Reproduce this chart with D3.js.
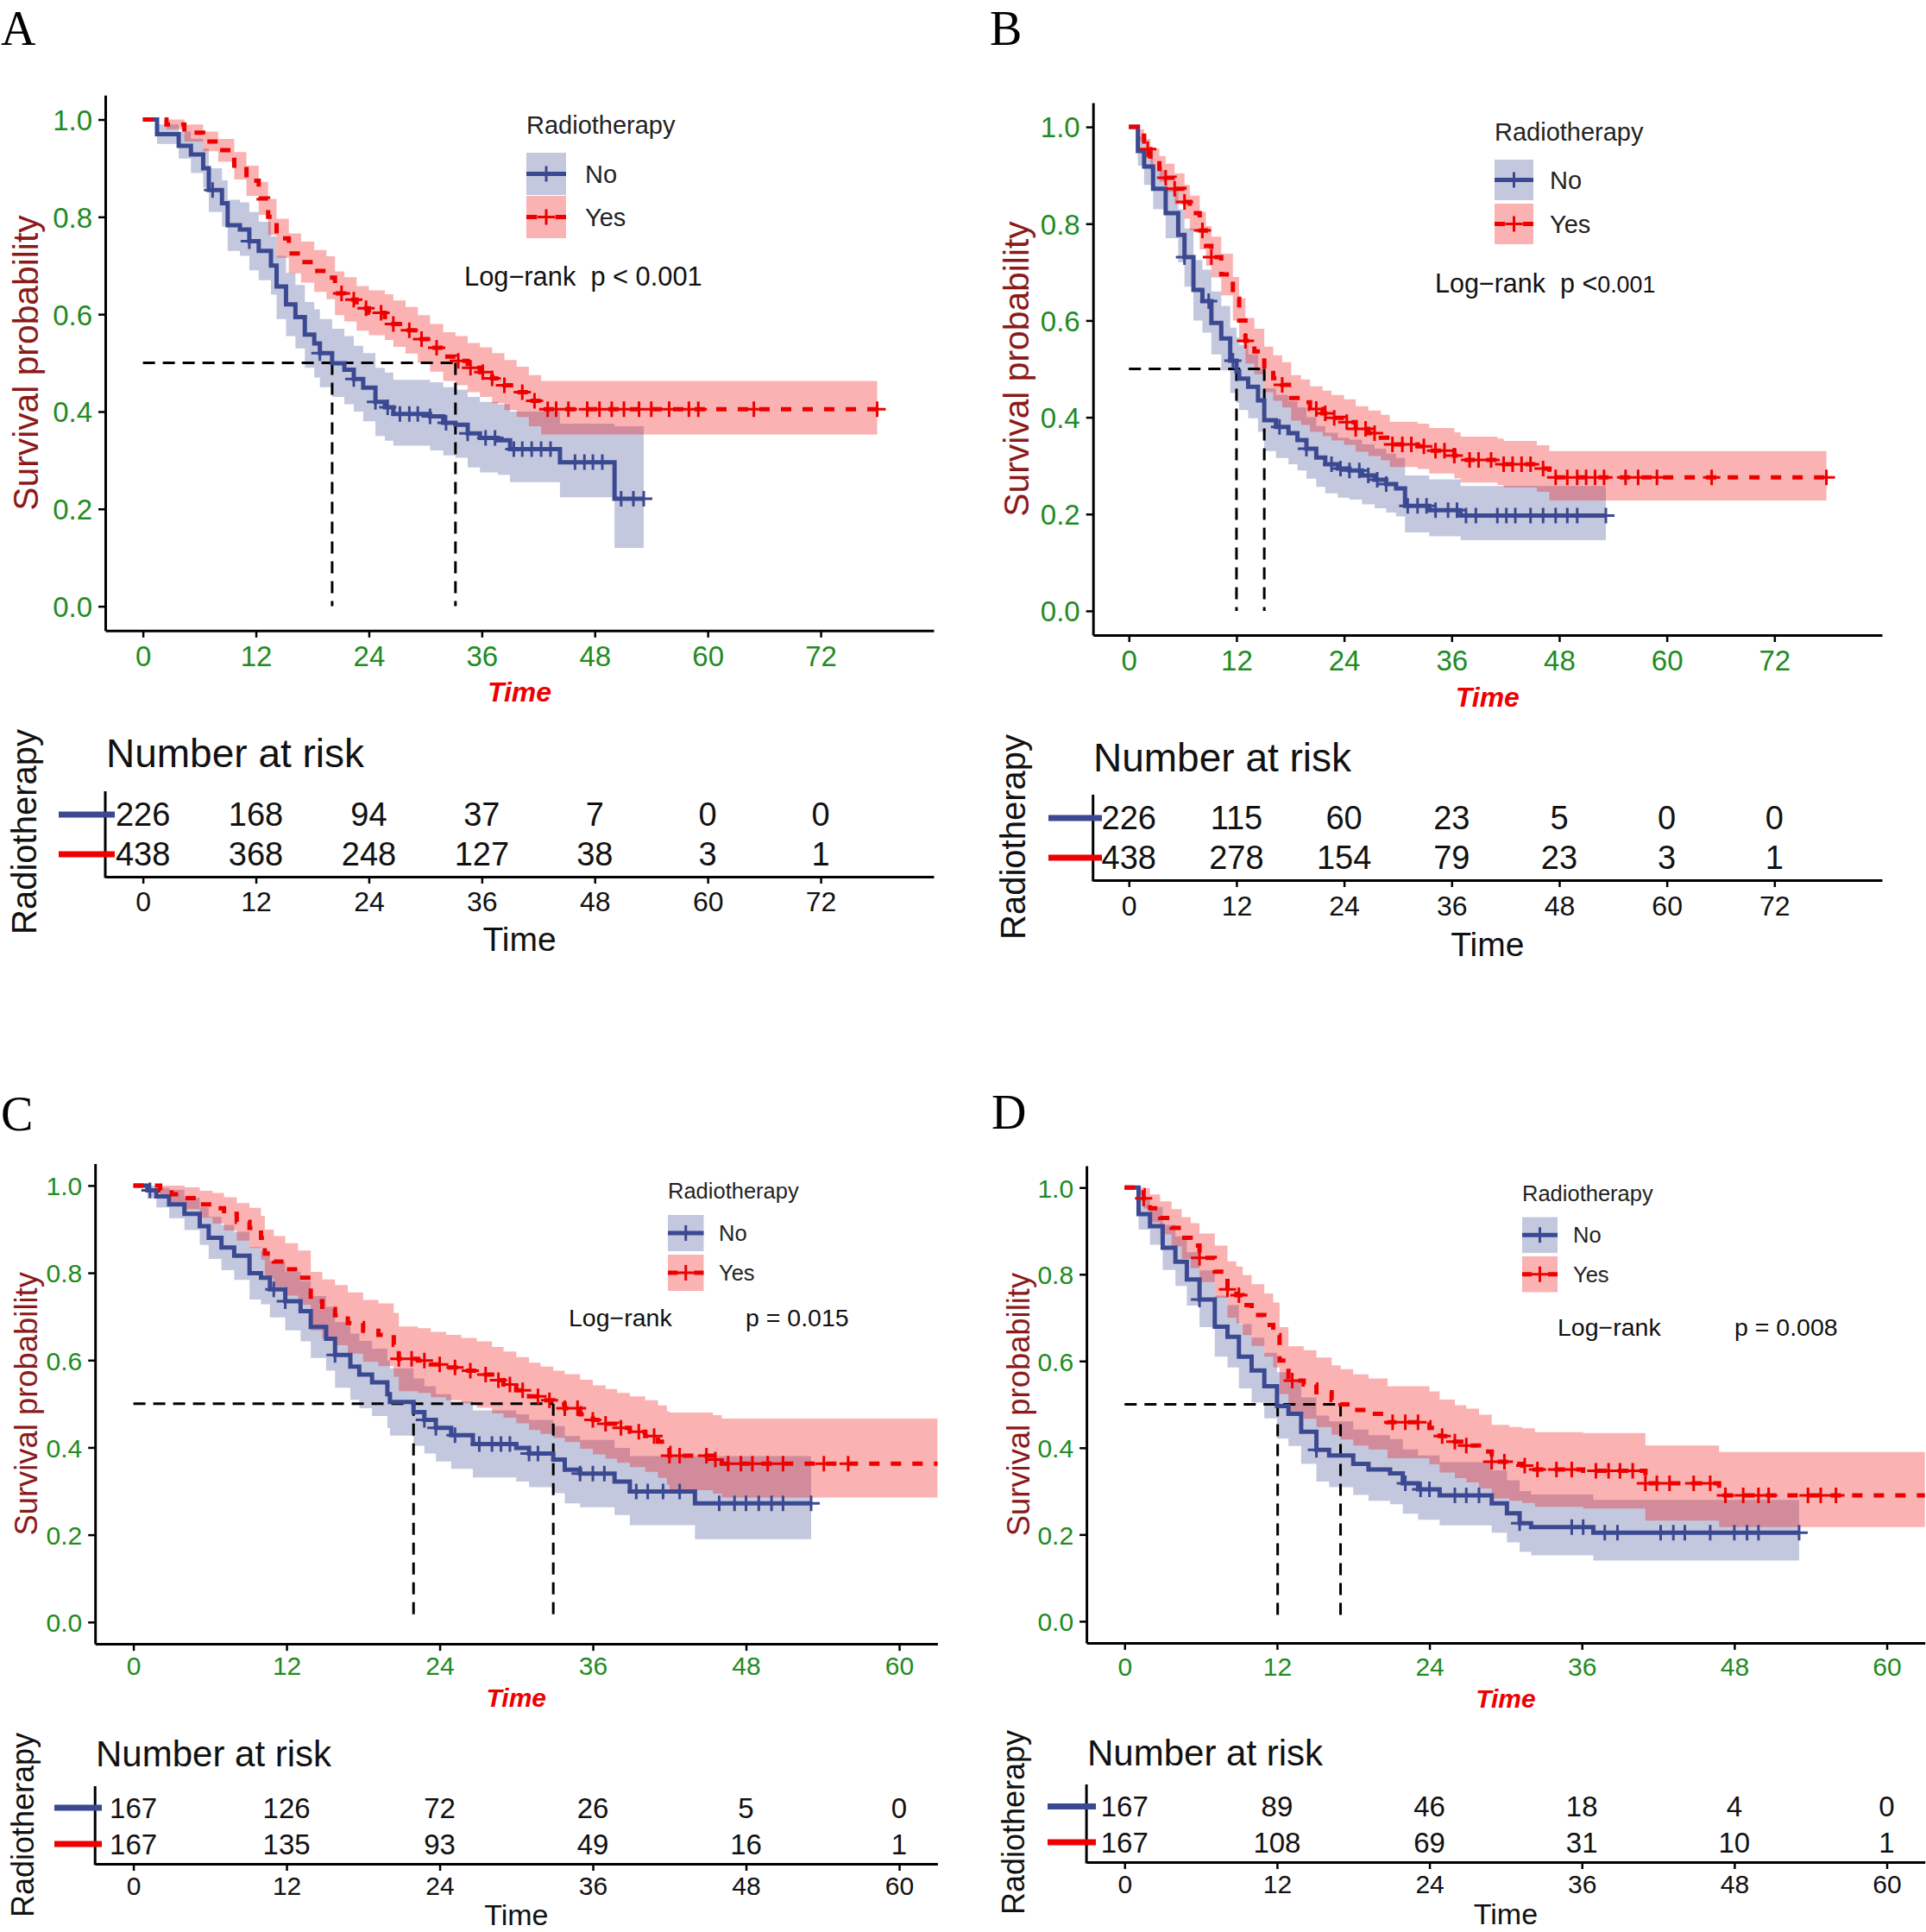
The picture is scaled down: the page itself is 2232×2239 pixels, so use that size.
<!DOCTYPE html>
<html><head><meta charset="utf-8">
<script src="https://cdn.jsdelivr.net/npm/d3@7/dist/d3.min.js"></script>
<style>body{margin:0;background:#fff}svg{display:block}</style>
</head><body>
<svg id="chart" width="2232" height="2239"></svg>
<script>
// ---------------- DATA ----------------
const panelLetters = ['A','B','C','D'];
const groupNames = ['No','Yes'];
const legendTitle = 'Radiotherapy';
const ticksAB = [0,12,24,36,48,60,72];
const ticksCD = [0,12,24,36,48,60];
const survTicks = [0,0.2,0.4,0.6,0.8,1.0];

// steps: [time, survival, lower CI, upper CI]
const A_no = [[0,1,1,1],[1.5,0.97,0.95,0.99],[3.8,0.946,0.92,0.975],[5.1,0.928,0.89,0.96],[6.4,0.90,0.86,0.94],[7.0,0.855,0.81,0.90],[8.4,0.828,0.78,0.875],[9.0,0.783,0.73,0.835],[10.3,0.774,0.72,0.83],[11.3,0.75,0.69,0.81],[12.3,0.73,0.67,0.79],[13.6,0.70,0.64,0.76],[14.2,0.657,0.59,0.72],[15.2,0.62,0.555,0.685],[16.2,0.594,0.53,0.66],[17.2,0.558,0.49,0.625],[18.2,0.54,0.47,0.61],[18.8,0.52,0.45,0.59],[20.1,0.499,0.43,0.57],[21.4,0.486,0.415,0.555],[22.4,0.467,0.40,0.535],[23.4,0.449,0.38,0.52],[24.7,0.42,0.35,0.49],[25.7,0.409,0.34,0.48],[26.6,0.395,0.33,0.465],[30.5,0.39,0.32,0.46],[31.9,0.377,0.31,0.45],[33.2,0.373,0.305,0.445],[34.5,0.355,0.285,0.43],[35.8,0.346,0.275,0.42],[37.7,0.341,0.27,0.415],[39.0,0.323,0.255,0.40],[44.3,0.296,0.224,0.375],[50.1,0.221,0.12,0.37]];
const A_no_end = 53.2;
const A_no_cens = [7.4,11.3,18.8,22.4,24.7,26,27.3,28.3,29.2,30.5,32.2,34.5,36.4,37.4,39.4,40.3,41.3,42.3,43.3,45.9,46.9,47.8,48.8,50.8,52.1,53.2];
const A_yes = [[0,1,1,1],[2.5,0.99,0.98,1.0],[4.4,0.973,0.955,0.99],[6.4,0.955,0.935,0.975],[8.0,0.937,0.913,0.96],[9.7,0.905,0.877,0.933],[11.0,0.874,0.843,0.905],[12.3,0.838,0.804,0.872],[13.3,0.80,0.763,0.837],[14.2,0.756,0.716,0.796],[15.5,0.725,0.684,0.766],[16.8,0.707,0.665,0.749],[18.2,0.689,0.646,0.732],[19.5,0.675,0.631,0.719],[20.4,0.643,0.598,0.688],[21.4,0.63,0.585,0.676],[22.7,0.612,0.566,0.658],[24.0,0.603,0.557,0.649],[25.7,0.594,0.547,0.641],[26.6,0.58,0.533,0.628],[27.9,0.567,0.519,0.615],[29.2,0.549,0.50,0.598],[30.5,0.531,0.482,0.58],[31.9,0.513,0.463,0.563],[33.2,0.504,0.454,0.555],[34.5,0.49,0.44,0.541],[35.8,0.481,0.43,0.532],[37.1,0.468,0.417,0.52],[38.4,0.454,0.403,0.506],[39.7,0.44,0.389,0.492],[41.0,0.422,0.37,0.475],[42.3,0.405,0.353,0.463]];
const A_yes_end = 78.0;
const A_yes_cens = [21.1,22.4,23.7,25.3,26.6,28.3,29.6,31.2,33.5,34.8,36.1,37.1,38.4,40.3,41.6,43,43.9,45.2,47.2,48.5,49.8,51.1,52.7,54,55.9,58,59,64.9,78];
const A_risk_no = [226,168,94,37,7,0,0];
const A_risk_yes = [438,368,248,127,38,3,1];
const A_medians = [20.1,33.2];

const B_no = [[0,1,1,1],[1.0,0.95,0.92,0.98],[1.7,0.918,0.88,0.95],[2.7,0.872,0.83,0.91],[4.1,0.822,0.77,0.87],[5.5,0.777,0.72,0.83],[6.2,0.731,0.67,0.79],[7.2,0.663,0.60,0.725],[8.2,0.64,0.575,0.705],[9.2,0.595,0.53,0.66],[10.3,0.563,0.497,0.63],[11.3,0.517,0.45,0.585],[12.0,0.495,0.43,0.565],[12.3,0.48,0.415,0.55],[13.3,0.463,0.398,0.53],[14.4,0.435,0.37,0.50],[15.1,0.394,0.33,0.46],[16.4,0.38,0.316,0.446],[17.8,0.367,0.303,0.433],[18.8,0.353,0.29,0.42],[19.8,0.335,0.273,0.40],[20.9,0.317,0.256,0.382],[21.9,0.303,0.243,0.368],[23.3,0.294,0.234,0.358],[24.6,0.29,0.23,0.354],[26.0,0.28,0.22,0.344],[27.4,0.271,0.212,0.335],[28.7,0.262,0.203,0.325],[29.8,0.253,0.195,0.316],[30.8,0.217,0.162,0.28],[33.5,0.208,0.154,0.272],[37.0,0.197,0.146,0.258]];
const B_no_end = 53.2;
const B_no_cens = [6.2,8.9,11.6,16.8,19.8,22.6,23.6,24.6,25.7,26.7,27.7,28.7,31.1,32.2,33.2,34.2,35.6,36.6,37.6,38.7,41.1,42.1,43.1,44.8,46.2,47.6,48.9,50,53.2];
const B_yes = [[0,1,1,1],[1.0,0.982,0.97,0.995],[1.7,0.954,0.935,0.975],[2.4,0.932,0.91,0.955],[3.4,0.913,0.887,0.94],[4.1,0.895,0.866,0.924],[5.1,0.872,0.84,0.904],[6.2,0.845,0.81,0.88],[6.8,0.822,0.786,0.858],[7.9,0.786,0.747,0.825],[8.6,0.754,0.713,0.795],[9.2,0.731,0.689,0.773],[10.3,0.695,0.652,0.738],[11.6,0.645,0.60,0.69],[12.3,0.60,0.554,0.646],[13.0,0.558,0.511,0.605],[14.0,0.536,0.489,0.583],[15.1,0.499,0.452,0.546],[16.1,0.481,0.434,0.528],[17.1,0.467,0.42,0.514],[18.1,0.44,0.393,0.487],[19.2,0.431,0.384,0.478],[20.2,0.417,0.37,0.464],[21.6,0.408,0.361,0.455],[22.6,0.399,0.352,0.446],[24.0,0.39,0.343,0.437],[25.3,0.376,0.329,0.423],[26.7,0.367,0.32,0.414],[28.1,0.358,0.311,0.405],[29.1,0.344,0.297,0.391],[32.2,0.34,0.293,0.387],[33.5,0.331,0.284,0.378],[36.3,0.321,0.274,0.369],[37.0,0.312,0.265,0.36],[41.1,0.308,0.26,0.356],[41.8,0.303,0.255,0.351],[45.5,0.294,0.246,0.342],[46.9,0.276,0.228,0.33]];
const B_yes_end = 77.8;
const B_yes_cens = [2.1,4.1,5.1,6.2,8.2,9.2,13,17.1,20.9,21.9,22.9,24.3,25.3,26.4,27.4,29.4,30.5,31.5,32.9,34.2,35.2,36.3,38,39,40.4,41.8,42.8,43.8,44.8,46.2,47.6,48.9,50,51,52,53,55.4,56.8,58.9,65,77.8];
const B_risk_no = [226,115,60,23,5,0,0];
const B_risk_yes = [438,278,154,79,23,3,1];
const B_medians = [12.0,15.1];

const C_no = [[0,1,1,1],[1.1,0.989,0.97,1.0],[1.8,0.975,0.95,0.995],[2.8,0.957,0.925,0.99],[4.0,0.935,0.898,0.972],[5.2,0.907,0.864,0.95],[5.9,0.88,0.832,0.928],[6.9,0.858,0.806,0.91],[7.9,0.839,0.784,0.894],[9.1,0.799,0.739,0.859],[10.0,0.789,0.728,0.85],[10.7,0.762,0.698,0.826],[11.9,0.735,0.668,0.802],[13.1,0.712,0.643,0.781],[13.9,0.676,0.605,0.747],[15.1,0.649,0.576,0.722],[15.8,0.612,0.537,0.687],[17.0,0.585,0.509,0.661],[17.7,0.567,0.49,0.644],[18.7,0.549,0.472,0.626],[19.9,0.522,0.445,0.599],[20.1,0.504,0.427,0.581],[21.95,0.481,0.404,0.558],[22.8,0.463,0.386,0.54],[23.7,0.445,0.368,0.522],[24.9,0.428,0.351,0.505],[26.6,0.408,0.331,0.485],[30.0,0.399,0.322,0.476],[31.0,0.386,0.309,0.463],[32.9,0.372,0.295,0.449],[33.8,0.349,0.272,0.426],[35.0,0.34,0.263,0.417],[37.7,0.322,0.245,0.399],[38.9,0.299,0.222,0.38],[44.0,0.272,0.19,0.38]];
const C_no_end = 53.1;
const C_no_cens = [1.3,11,11.9,15.8,22.8,23.7,25.2,27.1,28.1,28.8,29.5,31,31.7,35,36,36.9,39.4,40.3,41.5,42.8,45.9,47.1,48,49,50,50.9,53.1];
const C_yes = [[0,1,1,1],[2.1,0.989,0.973,1.0],[3.0,0.98,0.959,1.0],[4.0,0.971,0.946,0.996],[5.2,0.957,0.926,0.988],[6.2,0.948,0.913,0.983],[7.1,0.935,0.897,0.973],[8.1,0.917,0.874,0.96],[9.1,0.903,0.857,0.949],[10.0,0.88,0.83,0.93],[10.3,0.844,0.789,0.899],[11.0,0.826,0.768,0.884],[11.9,0.808,0.748,0.868],[12.9,0.789,0.727,0.851],[13.9,0.735,0.668,0.802],[14.8,0.717,0.649,0.785],[15.8,0.703,0.634,0.772],[16.8,0.685,0.615,0.755],[18.0,0.667,0.596,0.738],[19.2,0.658,0.586,0.73],[20.4,0.635,0.562,0.708],[20.8,0.603,0.529,0.677],[22.3,0.599,0.525,0.673],[23.3,0.59,0.515,0.665],[24.5,0.583,0.508,0.658],[25.7,0.576,0.501,0.651],[26.9,0.567,0.491,0.643],[28.1,0.554,0.478,0.63],[29.0,0.544,0.468,0.62],[30.0,0.531,0.455,0.607],[31.0,0.517,0.44,0.594],[31.9,0.508,0.431,0.585],[32.9,0.499,0.422,0.576],[33.8,0.49,0.412,0.568],[35.0,0.476,0.397,0.555],[36.0,0.463,0.384,0.542],[37.0,0.454,0.374,0.534],[37.9,0.445,0.365,0.525],[38.9,0.436,0.355,0.517],[40.1,0.426,0.344,0.508],[41.1,0.413,0.33,0.496],[41.8,0.399,0.315,0.483],[42.0,0.381,0.302,0.48],[45.4,0.372,0.294,0.474],[46.1,0.363,0.285,0.466]];
const C_yes_end = 70;
const C_yes_cens = [20.8,21.8,22.8,24,25.2,26.4,27.6,28.6,29.5,30.5,31.7,32.6,33.8,34.8,36,37,38.2,39.6,40.8,42,42.8,44.9,45.6,46.6,47.6,48.5,49.7,50.9,54.1,56];
const C_risk_no = [167,126,72,26,5,0];
const C_risk_yes = [167,135,93,49,16,1];
const C_medians = [21.95,32.9];

const D_no = [[0,1,1,1],[1.1,0.939,0.903,0.976],[2.0,0.911,0.868,0.955],[3.0,0.861,0.81,0.914],[4.0,0.829,0.773,0.887],[4.9,0.788,0.728,0.851],[5.9,0.742,0.678,0.809],[7.1,0.679,0.61,0.751],[8.1,0.656,0.585,0.729],[9.0,0.61,0.537,0.685],[10.0,0.578,0.504,0.654],[11.0,0.542,0.468,0.619],[12.0,0.496,0.421,0.574],[12.9,0.478,0.404,0.557],[13.9,0.437,0.363,0.516],[15.1,0.395,0.322,0.474],[16.1,0.382,0.309,0.461],[18.0,0.363,0.291,0.442],[19.2,0.35,0.278,0.429],[20.9,0.341,0.27,0.42],[21.9,0.318,0.248,0.396],[23.1,0.304,0.234,0.382],[24.8,0.29,0.221,0.367],[28.9,0.272,0.204,0.348],[30.1,0.249,0.182,0.325],[31.1,0.226,0.16,0.30],[32.0,0.217,0.152,0.292],[36.9,0.204,0.14,0.28]];
const D_no_end = 53.1;
const D_no_cens = [5.9,15.1,22.1,23.3,24,26,26.9,27.9,31.1,35.2,36.1,37.8,38.8,42.2,43.2,44.1,46.1,48,49,49.9,53.1];
const D_yes = [[0,1,1,1],[1.1,0.994,0.982,1.0],[1.5,0.975,0.951,0.999],[2.0,0.952,0.92,0.984],[2.8,0.93,0.892,0.968],[3.7,0.907,0.864,0.95],[4.5,0.884,0.836,0.932],[5.2,0.866,0.814,0.918],[5.9,0.838,0.782,0.894],[7.1,0.806,0.746,0.866],[8.1,0.765,0.70,0.83],[8.8,0.752,0.686,0.818],[9.3,0.729,0.66,0.798],[10.0,0.706,0.635,0.777],[11.0,0.683,0.61,0.756],[11.7,0.66,0.585,0.735],[12.2,0.601,0.524,0.678],[12.9,0.555,0.476,0.634],[14.1,0.546,0.467,0.625],[15.1,0.528,0.448,0.608],[16.3,0.51,0.43,0.59],[17.0,0.50,0.419,0.581],[18.0,0.487,0.405,0.569],[19.2,0.478,0.396,0.56],[20.7,0.459,0.376,0.542],[24.0,0.446,0.362,0.53],[24.8,0.427,0.343,0.511],[26.0,0.414,0.33,0.498],[26.9,0.405,0.32,0.49],[27.9,0.391,0.306,0.476],[28.9,0.368,0.283,0.453],[30.3,0.363,0.278,0.448],[31.3,0.359,0.273,0.445],[32.3,0.35,0.264,0.436],[36.1,0.347,0.26,0.434],[41.0,0.318,0.232,0.405],[46.8,0.29,0.217,0.39]];
const D_yes_end = 70;
const D_yes_cens = [1.5,5.9,8.1,9,13.2,21.1,22.1,23.1,25,26,26.9,28.9,29.9,31.5,32.5,34,35.2,37.1,38.1,39,40,41,41.9,42.9,44.8,46.1,47.3,48.7,49.9,50.7,53.8,54.8,56];
const D_risk_no = [167,89,46,18,4,0];
const D_risk_yes = [167,108,69,31,10,1];
const D_medians = [12.05,17.0];

const logrankLabels = ['Log\u2212rank', 'Log\u2212rank', 'Log\u2212rank', 'Log\u2212rank'];
const pLabels = ['p < 0.001', 'p <0.001', 'p = 0.015', 'p = 0.008'];

// ---------------- STYLE / LAYOUT ----------------
const COL = {no:'#3B4992', yes:'#EE0000', green:'#228B22', ytitle:'#8B1A1A', xtitle:'#EE0000'};
const SANS = '"Liberation Sans", Arial, Helvetica, sans-serif';
const SERIF = '"Liberation Serif", "Times New Roman", serif';

const layouts = [
 {xr:[122,1082], xd:[-4,84], yr:[730.8,110.3], ticks:ticksAB, letter:[0,52],
  leg:{x:610,titleY:145,boxY:[177,227],bw:46,bh:49,labelX:678,fs:29},
  lr:{x:538,y:320,fs:30.8,px:null}, ylabX:30, xtickY:760, xtitleY:802,
  f:{tick:33,ytitle:40.8,xtitle:32,risk:38,riskTick:32,riskTime:39,nar:46,rad:40},
  risk:{top:917,axis:1016,rows:[944,990],tickY:1045,timeY:1088,titleY:873,titleX:123,radX:28,radY:964,segX:[68,133]}},
 {xr:[1266.7,2181], xd:[-4,84], yr:[736,119], ticks:ticksAB, letter:[1146,52],
  leg:{x:1732,titleY:153,boxY:[185,236],bw:45,bh:47,labelX:1796,fs:29},
  lr:{x:1663,y:328,fs:30.5,px:null}, ylabX:1178, xtickY:765, xtitleY:808,
  f:{tick:33,ytitle:40.8,xtitle:32,risk:38,riskTick:32,riskTime:39,nar:46,rad:40},
  risk:{top:921,axis:1020,rows:[948,994],tickY:1050,timeY:1094,titleY:878,titleX:1267,radX:1174,radY:970,segX:[1215,1277]}},
 {xr:[110.2,1086.4], xd:[-3,63], yr:[1905.1,1348.6], ticks:ticksCD, letter:[0,1310],
  leg:{x:774,titleY:1380,boxY:[1408,1454],bw:41.5,bh:42,labelX:833,fs:25.5},
  lr:{x:659,y:1527,fs:28.5,px:864}, ylabX:30, xtickY:1931, xtitleY:1967,
  f:{tick:30,ytitle:36.4,xtitle:30,risk:33,riskTick:30,riskTime:34,nar:42,rad:36},
  risk:{top:2070,axis:2160,rows:[2095,2137],tickY:2185,timeY:2219,titleY:2032,titleX:111,radX:26,radY:2115,segX:[63,118]}},
 {xr:[1259.1,2230.7], xd:[-3,63], yr:[1904,1351.1], ticks:ticksCD, letter:[1148,1308],
  leg:{x:1764,titleY:1383,boxY:[1410.6,1456],bw:41,bh:41.5,labelX:1823,fs:25.5},
  lr:{x:1805,y:1538,fs:28.5,px:2010}, ylabX:1180, xtickY:1931, xtitleY:1968,
  f:{tick:30,ytitle:36.4,xtitle:30,risk:33,riskTick:30,riskTime:34,nar:42,rad:36},
  risk:{top:2068,axis:2158,rows:[2093.5,2135],tickY:2183,timeY:2218,titleY:2031,titleX:1260,radX:1174,radY:2112,segX:[1214,1270]}}
];

const panelData = [
 {no:{steps:A_no,end:A_no_end,cens:A_no_cens}, yes:{steps:A_yes,end:A_yes_end,cens:A_yes_cens}, riskNo:A_risk_no, riskYes:A_risk_yes, med:A_medians},
 {no:{steps:B_no,end:B_no_end,cens:B_no_cens}, yes:{steps:B_yes,end:B_yes_end,cens:B_yes_cens}, riskNo:B_risk_no, riskYes:B_risk_yes, med:B_medians},
 {no:{steps:C_no,end:C_no_end,cens:C_no_cens}, yes:{steps:C_yes,end:C_yes_end,cens:C_yes_cens}, riskNo:C_risk_no, riskYes:C_risk_yes, med:C_medians},
 {no:{steps:D_no,end:D_no_end,cens:D_no_cens}, yes:{steps:D_yes,end:D_yes_end,cens:D_yes_cens}, riskNo:D_risk_no, riskYes:D_risk_yes, med:D_medians}
];

// ---------------- DRAW ----------------
const svg = d3.select('#chart');
svg.append('rect').attr('width',2232).attr('height',2239).attr('fill','#fff');
const defs = svg.append('defs');

const LW = 5, DASH = '12,13';

function drawPanel(i){
  const L = layouts[i], P = panelData[i];
  const g = svg.append('g');
  const x = d3.scaleLinear().domain(L.xd).range(L.xr);
  const y = d3.scaleLinear().domain([-0.05,1.05]).range(L.yr);

  defs.append('clipPath').attr('id','clip'+i).append('rect')
    .attr('x',L.xr[0]).attr('y',L.yr[1]).attr('width',L.xr[1]-L.xr[0]).attr('height',L.yr[0]-L.yr[1]);
  const plot = g.append('g').attr('clip-path','url(#clip'+i+')');

  const curves = [['no',P.no,COL.no,null],['yes',P.yes,COL.yes,DASH]];
  const full = c => { const s=c.steps, last=s[s.length-1]; return s.concat([[c.end,last[1],last[2],last[3]]]); };

  // ribbons
  curves.forEach(([k,c,col])=>{
    plot.append('path').datum(full(c))
      .attr('d', d3.area().curve(d3.curveStepAfter).x(d=>x(d[0])).y0(d=>y(d[2])).y1(d=>y(d[3])))
      .attr('fill',col).attr('fill-opacity',0.3).attr('stroke','none');
  });
  // median lines
  const mx = d3.max(P.med);
  const medPath = d3.path();
  medPath.moveTo(x(0),y(0.5)); medPath.lineTo(x(mx),y(0.5));
  P.med.forEach(m=>{ medPath.moveTo(x(m),y(0.5)); medPath.lineTo(x(m),y(0)); });
  plot.append('path').attr('d',medPath.toString()).attr('stroke','#000').attr('stroke-width',3)
    .attr('stroke-dasharray','14,9').attr('fill','none');
  // lines + censor marks
  curves.forEach(([k,c,col,dash])=>{
    plot.append('path').datum(full(c))
      .attr('d', d3.line().curve(d3.curveStepAfter).x(d=>x(d[0])).y(d=>y(d[1])))
      .attr('fill','none').attr('stroke',col).attr('stroke-width',LW)
      .attr('stroke-dasharray',dash);
    const bis = d3.bisector(d=>d[0]).right;
    const cp = d3.path();
    c.cens.forEach(t=>{
      const s = c.steps[Math.max(0,bis(c.steps,t)-1)][1];
      const px = x(t), py = y(s);
      cp.moveTo(px-10,py); cp.lineTo(px+10,py);
      cp.moveTo(px,py-9); cp.lineTo(px,py+9);
    });
    plot.append('path').attr('d',cp.toString()).attr('stroke',col).attr('stroke-width',3).attr('fill','none');
  });

  // axes
  const ax = g.append('g').attr('transform',`translate(0,${L.yr[0]})`)
    .call(d3.axisBottom(x).tickValues(L.ticks).tickSize(8).tickSizeOuter(0).tickPadding(0).tickFormat(d3.format('d')));
  const ay = g.append('g').attr('transform',`translate(${L.xr[0]},0)`)
    .call(d3.axisLeft(y).tickValues(survTicks).tickSize(8).tickSizeOuter(0).tickPadding(7).tickFormat(d3.format('.1f')));
  [ax,ay].forEach(a=>{
    a.select('.domain').attr('stroke','#000').attr('stroke-width',3);
    a.selectAll('.tick line').attr('stroke','#000').attr('stroke-width',2.5);
    a.selectAll('.tick text').attr('fill',COL.green).style('font-family',SANS).style('font-size',L.f.tick+'px');
  });
  ax.selectAll('.tick text').attr('y',L.xtickY-L.yr[0]).attr('dy','0.35em');
  ay.selectAll('.tick text').attr('dy','0.36em');

  // axis titles
  g.append('text').attr('transform',`translate(${L.ylabX},${(L.yr[0]+L.yr[1])/2}) rotate(-90)`)
    .attr('text-anchor','middle').attr('dy','0.35em').attr('fill',COL.ytitle)
    .style('font-family',SANS).style('font-size',L.f.ytitle+'px').text('Survival probability');
  g.append('text').attr('x',(L.xr[0]+L.xr[1])/2).attr('y',L.xtitleY).attr('dy','0.35em')
    .attr('text-anchor','middle').attr('fill',COL.xtitle).style('font-weight','bold').style('font-style','italic')
    .style('font-family',SANS).style('font-size',L.f.xtitle+'px').text('Time');

  // panel letter
  g.append('text').attr('x',L.letter[0]+1).attr('y',L.letter[1]).style('font-family',SERIF)
    .style('font-size','56px').attr('fill','#000').text(panelLetters[i]);

  // legend
  const lg = g.append('g');
  lg.append('text').attr('x',L.leg.x).attr('y',L.leg.titleY).attr('dy','0.35em')
    .style('font-family',SANS).style('font-size',L.leg.fs+'px').attr('fill','#222').text(legendTitle);
  curves.forEach(([k,c,col,dash],j)=>{
    const by = L.leg.boxY[j], bx = L.leg.x, bw=L.leg.bw, bh=L.leg.bh, cy = by+bh/2, cx = bx+bw/2;
    lg.append('rect').attr('x',bx).attr('y',by).attr('width',bw).attr('height',bh).attr('fill',col).attr('fill-opacity',0.3);
    lg.append('line').attr('x1',bx).attr('x2',bx+bw).attr('y1',cy).attr('y2',cy).attr('stroke',col).attr('stroke-width',LW)
      .attr('stroke-dasharray', dash ? `${bw*0.27},${bw*0.46},${bw*0.27}` : null);
    lg.append('path').attr('d',`M${cx-10},${cy}H${cx+10}M${cx},${cy-9}V${cy+9}`).attr('stroke',col).attr('stroke-width',3);
    lg.append('text').attr('x',L.leg.labelX).attr('y',cy).attr('dy','0.35em')
      .style('font-family',SANS).style('font-size',L.leg.fs+'px').attr('fill','#222').text(groupNames[j]);
  });

  // log-rank text
  const lt = g.append('text').attr('x',L.lr.x).attr('y',L.lr.y).attr('dy','0.35em')
    .style('font-family',SANS).style('font-size',L.lr.fs+'px').attr('fill','#111').attr('xml:space','preserve');
  if (L.lr.px === null) {
    if (i===1){
      lt.append('tspan').text(logrankLabels[i]+'  p <');
      lt.append('tspan').style('font-size',(L.lr.fs*0.88)+'px').text('0.001');
    } else {
      lt.text(logrankLabels[i]+'  '+pLabels[i]);
    }
  } else {
    lt.text(logrankLabels[i]);
    g.append('text').attr('x',L.lr.px).attr('y',L.lr.y).attr('dy','0.35em')
      .style('font-family',SANS).style('font-size',L.lr.fs+'px').attr('fill','#111').text(pLabels[i]);
  }

  // ---- risk table ----
  const R = L.risk;
  const rt = g.append('g');
  const rax = rt.append('g').attr('transform',`translate(0,${R.axis})`)
    .call(d3.axisBottom(x).tickValues(L.ticks).tickSize(8).tickSizeOuter(0).tickPadding(0).tickFormat(d3.format('d')));
  rax.select('.domain').attr('stroke','#000').attr('stroke-width',3);
  rax.selectAll('.tick line').attr('stroke','#000').attr('stroke-width',2.5);
  rax.selectAll('.tick text').attr('fill','#111').style('font-family',SANS).style('font-size',L.f.riskTick+'px')
    .attr('y',R.tickY-R.axis).attr('dy','0.35em');
  rt.append('line').attr('x1',L.xr[0]).attr('x2',L.xr[0]).attr('y1',R.top).attr('y2',R.axis+1.5).attr('stroke','#000').attr('stroke-width',3);
  [[P.riskNo,COL.no],[P.riskYes,COL.yes]].forEach(([vals,col],j)=>{
    rt.append('line').attr('x1',R.segX[0]).attr('x2',R.segX[1]).attr('y1',R.rows[j]).attr('y2',R.rows[j])
      .attr('stroke',col).attr('stroke-width',7);
    rt.selectAll(null).data(vals).enter().append('text')
      .attr('x',(d,k)=>x(L.ticks[k])).attr('y',R.rows[j]).attr('dy','0.35em').attr('text-anchor','middle')
      .style('font-family',SANS).style('font-size',L.f.risk+'px').attr('fill','#111').text(d=>d);
  });
  rt.append('text').attr('x',R.titleX).attr('y',R.titleY).attr('dy','0.35em')
    .style('font-family',SANS).style('font-size',L.f.nar+'px').attr('fill','#111').text('Number at risk');
  rt.append('text').attr('x',(L.xr[0]+L.xr[1])/2).attr('y',R.timeY).attr('dy','0.35em').attr('text-anchor','middle')
    .style('font-family',SANS).style('font-size',L.f.riskTime+'px').attr('fill','#111').text('Time');
  rt.append('text').attr('transform',`translate(${R.radX},${R.radY}) rotate(-90)`).attr('text-anchor','middle').attr('dy','0.35em')
    .style('font-family',SANS).style('font-size',L.f.rad+'px').attr('fill','#111').text(legendTitle);
}

[0,1,2,3].forEach(drawPanel);
</script>
</body></html>
